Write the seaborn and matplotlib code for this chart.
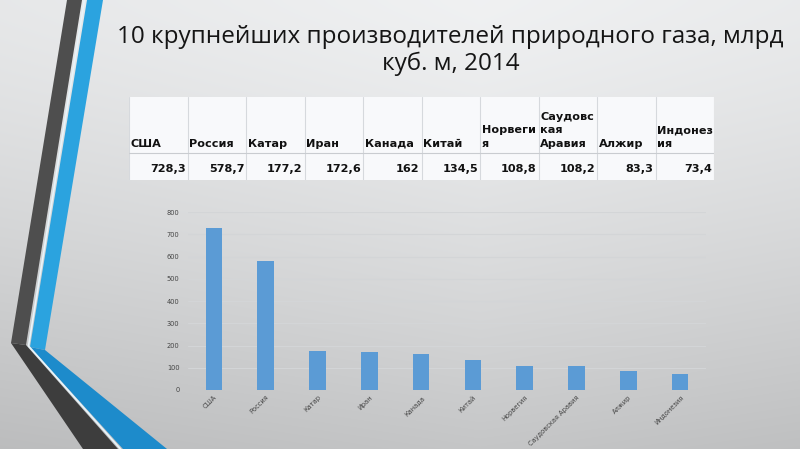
import numpy as np
import pandas as pd
import seaborn as sns
import matplotlib.pyplot as plt
from matplotlib.patches import Polygon

# ---- data -----------------------------------------------------------------
countries = ["США", "Россия", "Катар", "Иран", "Канада", "Китай",
             "Норвегия", "Саудовская Аравия", "Алжир", "Индонезия"]
header_labels = ["США", "Россия", "Катар", "Иран", "Канада", "Китай",
                 "Норвеги\nя", "Саудовс\nкая\nАравия", "Алжир", "Индонез\nия"]
production = [728.3, 578.7, 177.2, 172.6, 162, 134.5, 108.8, 108.2, 83.3, 73.4]
y_ticks = [0, 100, 200, 300, 400, 500, 600, 700, 800]
title = "10 крупнейших производителей природного газа, млрд\nкуб. м, 2014"

df = pd.DataFrame({"country": countries, "value": production})

sns.set_theme(style="white")
plt.rcParams["font.family"] = ["DejaVu Sans"]

W, H = 800, 449
fig = plt.figure(figsize=(W / 100, H / 100), dpi=100)

# ---- slide background -----------------------------------------------------
bg = fig.add_axes([0, 0, 1, 1], zorder=0)
yy, xx = np.mgrid[0:H, 0:W]
shade = 0.945 - 0.17 * (yy / H) ** 1.3 - 0.06 * np.abs(xx / W - 0.6)
rgb = np.dstack([shade * 0.995, shade * 1.0, shade * 1.005]).clip(0, 1)
bg.imshow(rgb, extent=(0, W, H, 0), aspect="auto")
bg.set_xlim(0, W)
bg.set_ylim(H, 0)
bg.axis("off")

# decorative chevron bands
bg.add_patch(Polygon([(67, 0), (82, 0), (26, 345), (11, 343)], closed=True,
                     color="#4e4e4e", lw=0))
bg.add_patch(Polygon([(11, 343), (26, 345), (118, 449), (83, 449)], closed=True,
                     color="#3d3d3d", lw=0))
bg.add_patch(Polygon([(87, 0), (103, 0), (45, 350), (30, 347)], closed=True,
                     color="#2ba3df", lw=0))
bg.add_patch(Polygon([(30, 347), (45, 350), (167, 449), (123, 449)], closed=True,
                     color="#1d8bcb", lw=0))
bg.plot([84.5, 28.5, 120.5], [0, 346, 449], color="#e8f4fa", lw=1.2)

# ---- title ----------------------------------------------------------------
fig.text(0.563, 0.944, title, ha="center", va="top", fontsize=17.5,
         family=["Open Sans", "DejaVu Sans"], color="#151515", linespacing=1.12)

# ---- table ----------------------------------------------------------------
tx0, tx1, ty0, ty1 = 129, 714, 97, 180
tab = fig.add_axes([tx0 / W, 1 - ty1 / H, (tx1 - tx0) / W, (ty1 - ty0) / H], zorder=2)
n = len(countries)
tab.set_xlim(0, n)
tab.set_ylim(ty1 - ty0, 0)
tab.add_patch(plt.Rectangle((0, 0), n, ty1 - ty0, color="#f8f9fb", lw=0))
for i in range(n + 1):
    tab.axvline(i, color="#d6d9dd", lw=0.8)
tab.axhline(56, color="#c9ccd0", lw=0.8)
for i, (lab, val) in enumerate(zip(header_labels, production)):
    tab.text(i + 0.03, 52, lab, ha="left", va="bottom", fontsize=8.1,
             fontweight="bold", color="#111111", linespacing=1.45)
    txt = f"{val:g}".replace(".", ",")
    tab.text(i + 0.97, 72, txt, ha="right", va="center", fontsize=8.1,
             fontweight="bold", color="#111111")
tab.axis("off")

# ---- bar chart ------------------------------------------------------------
ax = fig.add_axes([188 / W, 1 - 390 / H, 518 / W, 178 / H], zorder=2)
ax.patch.set_alpha(0)
sns.barplot(data=df, x="country", y="value", color="#5b9bd5", width=0.32,
            saturation=1, edgecolor="none", linewidth=0, ax=ax)
ax.set_ylim(0, 800)
ax.set_yticks(y_ticks)
ax.set_yticklabels([str(t) for t in y_ticks], fontsize=4.8, color="#444444")
ax.tick_params(axis="y", length=0, pad=6)
ax.tick_params(axis="x", length=0, pad=3)
ax.set_xticks(range(n))
ax.set_xticklabels(countries, rotation=45, ha="right", rotation_mode="anchor",
                   fontsize=4.8, color="#444444")
ax.grid(axis="y", color="#d3d5d7", lw=0.8)
ax.set_axisbelow(True)
for s in ax.spines.values():
    s.set_visible(False)
ax.set_xlabel("")
ax.set_ylabel("")

fig.savefig("out.png", dpi=100)
